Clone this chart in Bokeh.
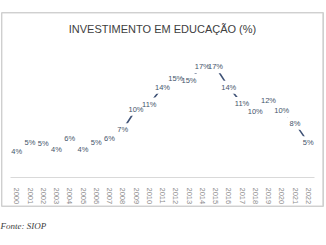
from bokeh.plotting import figure
from bokeh.models import ColumnDataSource, Range1d, Label, Title
from bokeh.embed import file_html
from bokeh.resources import INLINE

years = [str(y) for y in range(2000, 2023)]
values = [3.6, 5.0, 4.9, 4.0, 5.6, 4.0, 5.0, 5.7, 7.0, 10.2, 11.0, 13.6,
          15.0, 14.7, 16.8, 16.8, 13.6, 11.1, 9.85, 11.6, 10.0, 8.0, 5.0]
labels = [f"{round(v)}%" for v in values]
title_text = "INVESTIMENTO EM EDUCAÇÃO (%)"
source_text = "Fonte: SIOP"

src = ColumnDataSource(dict(x=years, y=values, t=labels))

p = figure(width=326, height=245, x_range=years, y_range=Range1d(-4.93, 25.24),
           output_backend="svg", toolbar_location=None,
           min_border_left=1, min_border_right=3, min_border_top=12, min_border_bottom=39)
p.x_range.range_padding = 0.65
p.x_range.range_padding_units = "absolute"
p.outline_line_color = "#d0d0d0"
p.background_fill_color = "white"
p.border_fill_color = "white"
p.grid.visible = False
p.yaxis.visible = False

# light frame around the chart area, just inside the plotting frame
p.quad(left=-0.62, right=23.6, bottom=-4.86, top=25.17,
       fill_alpha=0, line_color="#cfcfcf", line_width=1)

ax = p.xaxis[0]
ax.fixed_location = -0.42
ax.bounds = (0, 23)
ax.axis_line_color = "#d9d9d9"
ax.major_tick_line_color = None
ax.minor_tick_line_color = None
ax.major_label_orientation = "vertical"
ax.major_label_standoff = 4
ax.major_label_text_font = "Liberation Sans"
ax.major_label_text_font_size = "7.5px"
ax.major_label_text_color = "#8c8c8c"

p.line("x", "y", source=src, line_color="#3f5276", line_width=1.6)
# white boxes behind labels hide the line, then the labels on top
p.text("x", "y", text="t", source=src, text_align="center", text_baseline="middle",
       text_font_size="7.5px", text_alpha=0,
       background_fill_color="white", padding=2)
p.text("x", "y", text="t", source=src, text_align="center", text_baseline="middle",
       text_font_size="7.5px", text_color="#44546A", text_font_style="normal")

p.add_layout(Label(x=11.5, y=22.75, text=title_text, text_align="center",
                   text_baseline="middle", text_font="Liberation Sans",
                   text_font_size="11px", text_color="#404040"))

fonte = Title(text=source_text, align="left", text_font="Liberation Serif",
              text_font_style="italic", text_font_size="9px", text_color="#404040",
              offset=-1, standoff=25)
p.add_layout(fonte, "below")

open("out.html", "w").write(file_html(p, INLINE))
